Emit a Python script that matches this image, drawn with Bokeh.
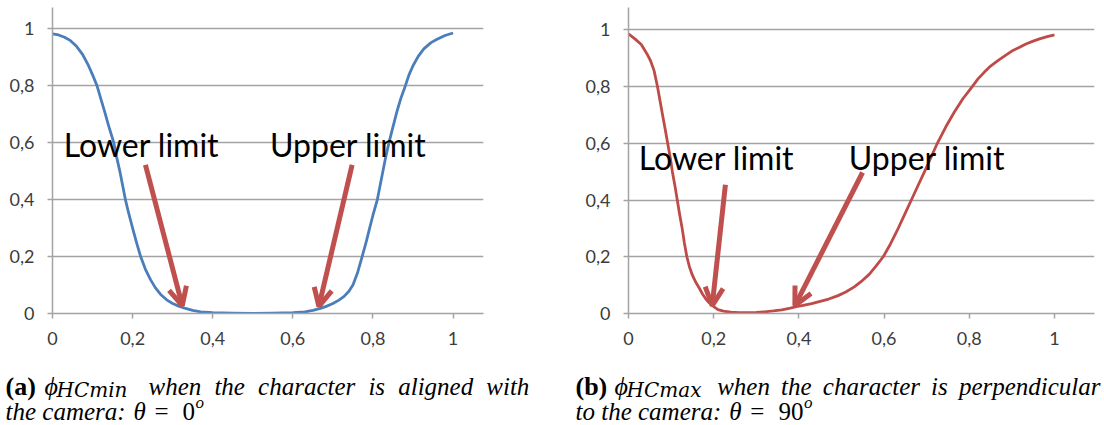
from bokeh.plotting import figure
from bokeh.models import Range1d, FixedTicker, Label, Arrow, OpenHead
from bokeh.layouts import row, column
from bokeh.embed import file_html
from bokeh.resources import INLINE

# ---------------- data ----------------
x_hc_min = [0.0, 0.015, 0.03, 0.045, 0.06, 0.075, 0.09, 0.10, 0.111, 0.12, 0.13, 0.14,
            0.153, 0.16, 0.168, 0.175, 0.182, 0.19, 0.20, 0.21, 0.22, 0.232, 0.245, 0.257,
            0.27, 0.285, 0.30, 0.315, 0.33, 0.35, 0.37, 0.40, 0.45, 0.50, 0.55, 0.60,
            0.63, 0.65, 0.669, 0.685, 0.70, 0.715, 0.728, 0.74, 0.75, 0.762, 0.773, 0.782,
            0.79, 0.80, 0.811, 0.818, 0.825, 0.832, 0.84, 0.85, 0.86, 0.87, 0.881, 0.89,
            0.90, 0.913, 0.927, 0.945, 0.96, 0.98, 1.0]
y_hc_min = [0.982, 0.978, 0.970, 0.958, 0.938, 0.91, 0.87, 0.838, 0.80, 0.757, 0.71, 0.66,
            0.60, 0.55, 0.50, 0.45, 0.40, 0.353, 0.30, 0.248, 0.20, 0.155, 0.118, 0.09,
            0.067, 0.048, 0.035, 0.026, 0.019, 0.011, 0.006, 0.003, 0.001, 0.0, 0.001, 0.003,
            0.006, 0.011, 0.018, 0.026, 0.035, 0.047, 0.06, 0.078, 0.10, 0.145, 0.20, 0.245,
            0.29, 0.345, 0.40, 0.45, 0.50, 0.55, 0.60, 0.655, 0.71, 0.757, 0.80, 0.838,
            0.87, 0.903, 0.929, 0.951, 0.963, 0.976, 0.985]

x_hc_max = [0.0, 0.015, 0.03, 0.0435, 0.052, 0.06, 0.068, 0.074, 0.08, 0.086, 0.092, 0.098,
            0.103, 0.109, 0.1145, 0.12, 0.126, 0.131, 0.137, 0.143, 0.15, 0.158, 0.166, 0.174,
            0.182, 0.19, 0.1985, 0.21, 0.223, 0.24, 0.26, 0.28, 0.30, 0.32, 0.34, 0.36,
            0.38, 0.394, 0.41, 0.43, 0.45, 0.47, 0.492, 0.51, 0.53, 0.549, 0.565, 0.58,
            0.598, 0.615, 0.63, 0.647, 0.664, 0.68, 0.695, 0.71, 0.725, 0.745, 0.765, 0.785,
            0.807, 0.82, 0.835, 0.85, 0.868, 0.885, 0.90, 0.917, 0.933, 0.95, 0.965, 0.983, 1.0]
y_hc_max = [0.986, 0.968, 0.948, 0.915, 0.89, 0.856, 0.80, 0.75, 0.70, 0.65, 0.60, 0.55,
            0.50, 0.45, 0.40, 0.35, 0.30, 0.25, 0.20, 0.165, 0.135, 0.11, 0.09, 0.068,
            0.05, 0.037, 0.026, 0.014, 0.0085, 0.005, 0.003, 0.003, 0.004, 0.006, 0.009, 0.013,
            0.019, 0.024, 0.029, 0.035, 0.043, 0.051, 0.063, 0.076, 0.094, 0.116, 0.138, 0.165,
            0.20, 0.245, 0.29, 0.345, 0.40, 0.452, 0.50, 0.55, 0.60, 0.658, 0.71, 0.757,
            0.80, 0.826, 0.85, 0.872, 0.892, 0.91, 0.925, 0.938, 0.95, 0.96, 0.968, 0.976, 0.982]

tick_values = [0, 0.2, 0.4, 0.6, 0.8, 1]
tick_labels = ["0", "0,2", "0,4", "0,6", "0,8", "1"]

callout_texts = ["Lower limit", "Upper limit"]
callout_x_min = [0.028, 0.543]
callout_y_min = [0.593, 0.593]
callout_x_max = [0.024, 0.517]
callout_y_max = [0.551, 0.551]

# arrows: start -> end (tip)
arrow_x0_min = [0.232, 0.748]
arrow_y0_min = [0.522, 0.522]
arrow_x1_min = [0.324, 0.665]
arrow_y1_min = [0.028, 0.025]
arrow_x0_max = [0.2275, 0.5495]
arrow_y0_max = [0.454, 0.497]
arrow_x1_max = [0.1965, 0.3906]
arrow_y1_max = [0.028, 0.028]

BLUE = "#4a7ebb"
RED = "#be4b48"
ARROW_RED = "#c0504d"
GRAY = "#a3a3a3"
LABEL_GRAY = "#3c3c3c"
SERIF = "Liberation Serif"
SANS = "Lato"

CHART_H = 356
CAP_H = 425 - CHART_H


def make_panel(width, b_left, b_right, x_end, y_end, xs, ys, color):
    p = figure(width=width, height=CHART_H, output_backend="svg", toolbar_location=None,
               x_range=Range1d(0, x_end), y_range=Range1d(0, y_end),
               min_border_left=b_left, min_border_right=b_right,
               min_border_top=7, min_border_bottom=CHART_H - 313)
    p.outline_line_color = None
    p.background_fill_color = "white"
    p.border_fill_color = "white"
    p.xgrid.visible = False
    p.ygrid.grid_line_color = GRAY
    p.ygrid.grid_line_width = 1.5
    for ax in (p.xaxis[0], p.yaxis[0]):
        ax.ticker = FixedTicker(ticks=tick_values)
        ax.major_label_overrides = dict(zip(tick_values, tick_labels))
        ax.axis_line_color = GRAY
        ax.axis_line_width = 1.5
        ax.major_tick_line_color = GRAY
        ax.major_tick_line_width = 1.5
        ax.major_tick_out = 5
        ax.major_tick_in = 0
        ax.minor_tick_line_color = None
        ax.major_label_text_font = SANS
        ax.major_label_text_font_size = "18px"
        ax.major_label_text_color = LABEL_GRAY
    p.xaxis.major_label_standoff = 13
    p.yaxis.major_label_standoff = 13
    p.line(xs, ys, line_color=color, line_width=2.8, line_join="round")
    return p


def add_callouts(p, xs, ys, ax0, ay0, ax1, ay1):
    for t, x, y in zip(callout_texts, xs, ys):
        p.add_layout(Label(x=x, y=y, text=t, text_font=SANS, text_font_size="32px",
                           text_color="black", text_baseline="alphabetic"))
    for a, b, c, d in zip(ax0, ay0, ax1, ay1):
        p.add_layout(Arrow(x_start=a, y_start=b, x_end=c, y_end=d,
                           line_color=ARROW_RED, line_width=5,
                           end=OpenHead(size=18, line_color=ARROW_RED, line_width=5)))


def caption_fig(width):
    c = figure(width=width, height=CAP_H, output_backend="svg", toolbar_location=None,
               x_axis_type=None, y_axis_type=None, x_range=Range1d(0, 1), y_range=Range1d(0, 1),
               min_border=0, min_border_left=0, min_border_right=0,
               min_border_top=0, min_border_bottom=0)
    c.outline_line_color = None
    c.grid.visible = False
    c.background_fill_color = "white"
    c.border_fill_color = "white"
    return c


def add_text(c, text, rx, ry, left, size, style, font=SERIF):
    # rx: page x of text start, ry: page y of baseline
    c.add_layout(Label(x=rx - left, y=425 - ry, x_units="screen", y_units="screen",
                       text=text, text_font=font, text_font_size=f"{size}px",
                       text_font_style=style, text_color="black",
                       text_baseline="alphabetic", text_align="left"))


# Panel (a)
p1 = make_panel(560, 52, 77, 1.076, 1.0744, x_hc_min, y_hc_min, BLUE)
add_callouts(p1, callout_x_min, callout_y_min, arrow_x0_min, arrow_y0_min, arrow_x1_min, arrow_y1_min)

# Panel (b)
p2 = make_panel(544, 68, 10, 1.094, 1.0786, x_hc_max, y_hc_max, RED)
add_callouts(p2, callout_x_max, callout_y_max, arrow_x0_max, arrow_y0_max, arrow_x1_max, arrow_y1_max)

# Captions
B1, B2 = 385.5, 410.8
c1 = caption_fig(560)
L1 = 0
add_text(c1, "(a)", 5, B1, L1, 26, "bold")
add_text(c1, "\u03d5", 44, B1, L1, 26, "italic")
add_text(c1, "HCmin", 56, B1 + 4, L1, 20, "italic", "DejaVu Serif")
for w, x in zip(["when", "the", "character", "is", "aligned", "with"],
                [148, 213.9, 257.6, 367.9, 397.7, 485.8]):
    add_text(c1, w, x, B1, L1, 25, "italic")
add_text(c1, "the camera:", 5, B2, L1, 25, "italic")
add_text(c1, "\u03b8", 133, B2, L1, 25, "italic")
add_text(c1, "=", 154, B2, L1, 25, "normal")
add_text(c1, "0", 182, B2, L1, 25, "normal")
add_text(c1, "o", 195, B2 - 8.5, L1, 17, "italic")

c2 = caption_fig(544)
L2 = 560
add_text(c2, "(b)", 575, B1, L2, 26, "bold")
add_text(c2, "\u03d5", 614, B1, L2, 26, "italic")
add_text(c2, "HCmax", 626, B1 + 4, L2, 20, "italic", "DejaVu Serif")
for w, x in zip(["when", "the", "character", "is", "perpendicular"],
                [716.7, 780.6, 822.3, 930.6, 958.4]):
    add_text(c2, w, x, B1, L2, 25, "italic")
add_text(c2, "to the camera:", 575, B2, L2, 25, "italic")
add_text(c2, "\u03b8", 728.8, B2, L2, 25, "italic")
add_text(c2, "=", 749.8, B2, L2, 25, "normal")
add_text(c2, "90", 778, B2, L2, 25, "normal")
add_text(c2, "o", 803.5, B2 - 8.5, L2, 17, "italic")

layout = column(row(p1, p2), row(c1, c2))
open("out.html", "w").write(file_html(layout, INLINE))
